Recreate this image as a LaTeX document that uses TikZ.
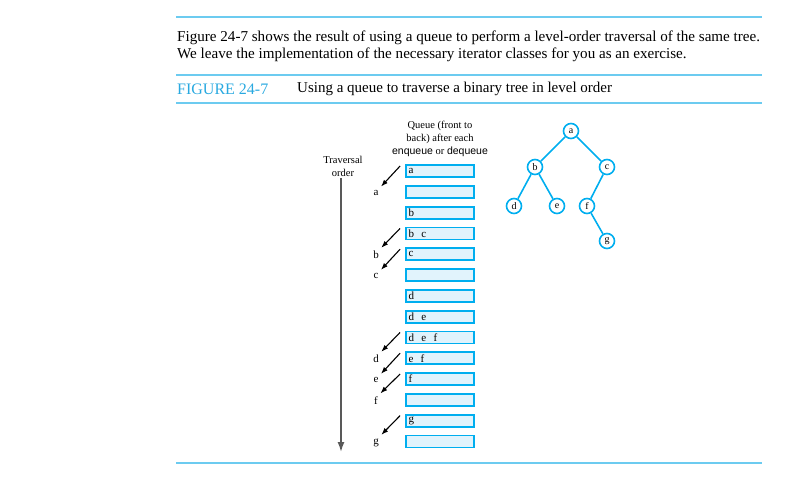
\documentclass[tikz,border=0pt]{standalone}
\usepackage{fontspec}
\usetikzlibrary{arrows.meta}
\setmainfont{Liberation Serif}
\setsansfont{Liberation Sans}
\begin{document}
\begin{tikzpicture}[x=1pt,y=-1pt,
  rulel/.style={draw=rulecol,line width=1.6pt},
  qbox/.style={draw=qblue,fill=qfill,line width=1.8pt,minimum width=68pt,minimum height=12pt,inner sep=0pt,text width=63pt,align=left,font=\fontsize{11}{11}\selectfont},
  tn/.style={circle,draw=qblue,fill=white,line width=1.6pt,minimum size=15pt,inner sep=0pt,font=\fontsize{10}{10}\selectfont},
  te/.style={draw=qblue,line width=1.6pt},
  lab/.style={font=\fontsize{11}{11}\selectfont},
  pt/.style={-{Latex[length=7pt,width=5pt]},line width=1.1pt}]
\definecolor{rulecol}{HTML}{6CCBF0}
\definecolor{qblue}{HTML}{00AEEF}
\definecolor{qfill}{HTML}{E1F3FC}
\definecolor{figblue}{HTML}{29A9E0}
\useasboundingbox (0,0) rectangle (798,495);
\draw[rulel] (176,17) -- (762,17);
\draw[rulel] (176,75) -- (762,75);
\draw[rulel] (176,103) -- (762,103);
\draw[rulel] (176,463) -- (762,463);
\node[anchor=west,inner sep=0pt,font=\fontsize{15.1}{17}\selectfont] (t1) at (177,38) {Figure 24-7 shows the result of using a queue to perform a level-order traversal of the same tree.};
\node[anchor=west,inner sep=0pt,font=\fontsize{15.1}{17}\selectfont] (t2) at (177,55) {We leave the implementation of the necessary iterator classes for you as an exercise.};
\node[anchor=west,inner sep=0pt,font=\fontsize{16}{17}\selectfont,text=figblue] (fg) at (177,89) {FIGURE 24-7};
\node[anchor=west,inner sep=0pt,font=\fontsize{15}{17}\selectfont] (fc) at (297,89) {Using a queue to traverse a binary tree in level order};
\node[align=center,inner sep=0pt,font=\fontsize{10.5}{13}\selectfont] (qh) at (440,139) {Queue (front to\\back) after each\\{\sffamily enqueue} or {\sffamily dequeue}};
\node[align=center,inner sep=0pt,font=\fontsize{10.5}{13}\selectfont] (tr) at (343,166) {Traversal\\order};
\coordinate (vs) at (341,178);
\coordinate (ve) at (341,452);
\draw[-{Latex[length=10pt,width=7pt]},line width=1.6pt,black!65] (vs) -- (ve);
\foreach \i/\t in {0/a,1/,2/b,3/b\ \ c,4/c,5/,6/d,7/d\ \ e,8/d\ \ e\ \ f,9/e\ \ f,10/f,11/,12/g,13/}{
  \node[qbox] (q\i) at (440,{171+20.8*\i}) {\t};
}
\foreach \i/\l in {0/a,3/b,4/c,8/d,9/e,10/f,12/g}{
  \pgfmathtruncatemacro{\j}{\i+1}
  \node[lab] (L\i) at (376,{171+20.8*\j+1}) {\l};
  \draw[pt] ([xshift=-5pt,yshift=5pt]q\i.west) -- ([xshift=-1pt,yshift=0pt]L\i.north east);
}
\node[tn] (a) at (571,131) {a};
\node[tn] (b) at (535,167) {b};
\node[tn] (c) at (607,167) {c};
\node[tn] (d) at (514,206) {d};
\node[tn] (e) at (557,206) {e};
\node[tn] (f) at (587,206) {f};
\node[tn] (g) at (607,241) {g};
\draw[te] (a)--(b) (a)--(c) (b)--(d) (b)--(e) (c)--(f) (f)--(g);
\end{tikzpicture}
\end{document}
